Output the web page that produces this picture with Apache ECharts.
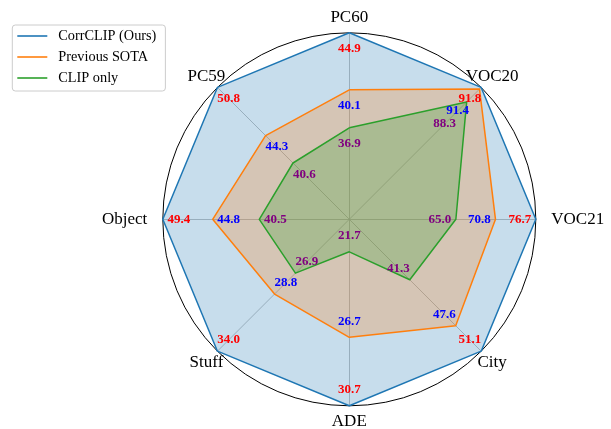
<!DOCTYPE html>
<html>
<head>
<meta charset="utf-8">
<script src="https://cdn.jsdelivr.net/npm/echarts@6/dist/echarts.min.js"></script>
<style>html,body{margin:0;padding:0;background:#fff;}#c{width:611px;height:429px;}</style>
</head>
<body>
<div id="c"></div>
<script>
// Axes, counterclockwise from the top
var axisNames = ['PC60', 'PC59', 'Object', 'Stuff', 'ADE', 'City', 'VOC21', 'VOC20'];
var corrClip = [44.9, 50.8, 49.4, 34.0, 30.7, 51.1, 76.7, 91.8];
var prevSota = [40.1, 44.3, 44.8, 28.8, 26.7, 47.6, 70.8, 91.4];
var clipOnly = [36.9, 40.6, 40.5, 26.9, 21.7, 41.3, 65.0, 88.3];
var axisMin = [29.2, 33, 32.2, 22, 19.8, 33, 49.4, 60];
var axisMax = corrClip.slice();
var seriesNames = ['CorrCLIP (Ours)', 'Previous SOTA', 'CLIP only'];

var FONT = "'Liberation Serif', 'Times New Roman', serif";
var R = 186.5, CX = 349.3, CY = 219.3, POLAR_MAX = 1.2;
var lineColors = ['#1f77b4', '#ff7f0e', '#2ca02c'];
var labelColors = ['#ff0000', '#0000ff', '#800080'];
var allSeries = [corrClip, prevSota, clipOnly];

function norm(v, i) { return (v - axisMin[i]) / (axisMax[i] - axisMin[i]); }

var chart = echarts.init(document.getElementById('c'), null, {renderer: 'canvas'});

var series = [{
  type: 'radar',
  radarIndex: 0,
  symbol: 'none',
  z: 2,
  data: allSeries.map(function (vals, k) {
    return {
      name: seriesNames[k],
      value: vals,
      itemStyle: {color: lineColors[k]},
      lineStyle: {color: lineColors[k], width: 1.5},
      areaStyle: {color: lineColors[k], opacity: 0.25}
    };
  })
}];

// value labels, drawn a little inside each vertex
var inward = 16 / R;
var crowdedExtra = 15 / R; // crowded VOC20 corner: lower labels pushed further in
allSeries.forEach(function (vals, k) {
  series.push({
    type: 'scatter',
    name: 'lbl' + k,
    coordinateSystem: 'polar',
    symbolSize: 0,
    z: 5,
    silent: true,
    itemStyle: {color: 'transparent', opacity: 1},
    label: {
      show: true, position: 'inside', color: labelColors[k], fontWeight: 700,
      fontFamily: FONT, fontSize: 13, textBorderWidth: 0,
      formatter: function (p) { return vals[p.dataIndex].toFixed(1); }
    },
    data: vals.map(function (v, i) {
      var extra = (axisNames[i] === 'VOC20' && k > 0) ? crowdedExtra : 0;
      return [norm(v, i) - inward - extra, axisNames[i]];
    })
  });
});

// axis names
var nameR = 202 / R;
series.push({
  type: 'scatter',
  name: 'names',
  coordinateSystem: 'polar',
  symbolSize: 0,
  silent: true,
  itemStyle: {color: 'transparent', opacity: 1},
  label: {show: true, color: '#000', fontFamily: FONT, fontSize: 17, formatter: '{b}', textBorderWidth: 0},
  data: axisNames.map(function (n, i) {
    var c = Math.cos(Math.PI / 2 + i * 2 * Math.PI / axisNames.length);
    var pos = c > 0.99 ? 'right' : (c < -0.99 ? 'left' : 'inside');
    return {name: n, value: [nameR, n], label: {position: pos, distance: 0}};
  })
});

chart.setOption({
  animation: false,
  backgroundColor: '#fff',
  legend: {
    orient: 'vertical', left: 12.3, top: 25,
    data: seriesNames,
    icon: 'rect', itemWidth: 30, itemHeight: 1.6, itemGap: 5,
    padding: [3, 9, 5, 5],
    borderColor: '#cccccc', borderWidth: 1, borderRadius: 3,
    backgroundColor: 'rgba(255,255,255,0.8)',
    textStyle: {fontFamily: FONT, fontSize: 14.3, color: '#000', lineHeight: 16, padding: [0, 0, 0, 6]}
  },
  radar: {
    center: [CX, CY], radius: R, startAngle: 90, shape: 'circle', splitNumber: 1,
    indicator: axisNames.map(function (n, i) { return {name: n, min: axisMin[i], max: axisMax[i]}; }),
    axisName: {show: false},
    axisLine: {lineStyle: {color: '#b0b0b0', width: 0.8}},
    splitLine: {lineStyle: {color: '#000', width: 1}},
    splitArea: {show: false},
    axisTick: {show: false}, axisLabel: {show: false}
  },
  polar: {center: [CX, CY], radius: R * POLAR_MAX},
  angleAxis: {type: 'category', data: axisNames, startAngle: 90, clockwise: false, boundaryGap: false, show: false},
  radiusAxis: {type: 'value', min: 0, max: POLAR_MAX, show: false},
  series: series
});
</script>
</body>
</html>
